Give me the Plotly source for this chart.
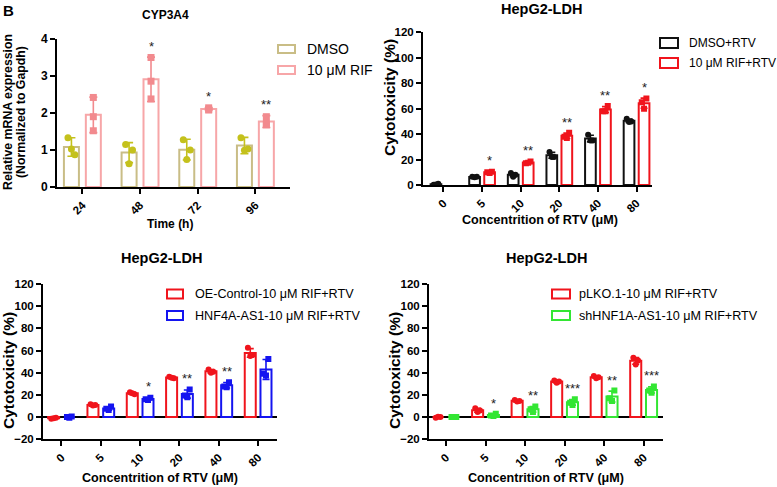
import plotly.graph_objects as go

W, H = 777, 487
FONT = "Liberation Sans, Arial, sans-serif"

# ---------------- Data ----------------
# Panel 1: CYP3A4 mRNA
time_labels = ["24", "48", "72", "96"]
dmso_points = [[1.33, 0.87, 1.03], [1.15, 1.00, 0.63], [1.28, 1.00, 0.74], [1.33, 1.03, 0.99]]
dmso_mean = [1.08, 0.93, 1.01, 1.12]
dmso_sd = [0.25, 0.27, 0.28, 0.22]
rif_points = [[2.42, 1.90, 1.52], [3.50, 2.86, 2.38], [2.14, 2.08, 2.10], [1.90, 1.72, 1.68]]
rif_mean = [1.95, 2.91, 2.11, 1.77]
rif_sd = [0.48, 0.60, 0.03, 0.16]
cyp_sig = ["", "*", "*", "**"]

# Shared concentration labels
conc_labels = ["0", "5", "10", "20", "40", "80"]

# Panel 2: DMSO+RTV vs RIF+RTV
p2_a_points = [[0.2, 1.0, 0.3], [6.5, 6.5, 6.0], [9.5, 8.0, 6.5], [26.0, 22.0, 22.0], [39.5, 35.0, 35.0], [52.0, 50.0, 49.5]]
p2_a_mean = [0.5, 6.3, 8.0, 23.3, 36.5, 50.5]
p2_a_sd = [0.4, 0.3, 1.5, 2.3, 2.6, 1.3]
p2_b_points = [[], [10.5, 10.0, 9.5], [18.5, 17.0, 17.5], [41.0, 38.0, 37.0], [62.0, 58.0, 58.0], [68.0, 65.0, 60.0]]
p2_b_mean = [None, 10.0, 17.7, 38.7, 59.3, 64.3]
p2_b_sd = [0, 0.5, 0.8, 2.1, 2.3, 4.0]
p2_sig = ["", "*", "**", "**", "**", "*"]

# Panel 3: OE-Control vs HNF4A-AS1
p3_a_points = [[-1.5, -0.5, -1.0], [11.5, 11.0, 10.5], [22.5, 20.5, 21.5], [36.5, 35.0, 35.5], [43.0, 41.0, 40.0], [62.5, 56.0, 55.0]]
p3_a_mean = [-1.0, 11.0, 21.5, 35.7, 41.3, 57.8]
p3_a_sd = [0.5, 0.5, 1.0, 0.8, 1.5, 3.9]
p3_b_points = [[0.5, 0.0, -0.5], [9.5, 7.5, 6.5], [17.5, 16.0, 15.5], [25.0, 19.5, 18.0], [31.5, 27.5, 27.0], [52.5, 39.0, 37.5]]
p3_b_mean = [0.0, 7.8, 16.3, 20.8, 28.7, 43.0]
p3_b_sd = [0.5, 1.5, 1.0, 3.7, 2.5, 9.0]
p3_sig = ["", "", "*", "**", "**", ""]

# Panel 4: pLKO.1 vs shHNF1A-AS1
p4_a_points = [[-0.5, 0.0, 0.3], [8.0, 6.0, 4.5], [15.5, 14.5, 14.0], [33.0, 32.0, 31.0], [37.0, 36.0, 35.0], [53.5, 51.0, 47.5]]
p4_a_mean = [0.0, 6.2, 14.7, 32.0, 36.0, 50.7]
p4_a_sd = [0.4, 1.8, 0.8, 1.0, 1.0, 3.0]
p4_b_points = [[0.0, 0.0, 0.0], [3.0, 1.5, 1.0], [9.5, 7.0, 4.5], [16.0, 13.0, 11.0], [24.0, 17.0, 14.5], [27.5, 24.0, 22.0]]
p4_b_mean = [0.0, 1.8, 7.0, 13.3, 18.5, 24.5]
p4_b_sd = [0.2, 1.0, 2.5, 2.5, 4.9, 2.8]
p4_sig = ["", "*", "**", "***", "**", "***"]

# ---------------- Helpers ----------------
def fx(px):
    return px / W

def fy(py):
    return 1 - py / H

fig = go.Figure()
annotations = []
shapes = []


def add_group(xr, yr, labels, means, sds, pts, offset, width, line_color, pt_color,
              symbol, name, jitter, cap, msize):
    xs = list(range(len(labels)))
    fig.add_trace(go.Bar(
        x=xs, y=means, offset=offset, width=width, name=name, showlegend=False,
        marker=dict(color="white", line=dict(color=line_color, width=2)),
        error_y=dict(type="data", array=sds, visible=True, color=pt_color,
                     thickness=1.6, width=cap),
        xaxis=xr, yaxis=yr, hoverinfo="skip"))
    px_, py_ = [], []
    for i, p in enumerate(pts):
        for j, v in enumerate(p):
            px_.append(i + offset + width / 2 + jitter[j % len(jitter)])
            py_.append(v)
    fig.add_trace(go.Scatter(
        x=px_, y=py_, mode="markers", showlegend=False, name=name,
        marker=dict(symbol=symbol, size=msize, color=pt_color, line=dict(width=0)),
        xaxis=xr, yaxis=yr, hoverinfo="skip"))


def add_sig(xr, yr, sig, means, sds, offset, width, shift):
    for i, s in enumerate(sig):
        if s and means[i] is not None:
            annotations.append(dict(
                x=i + offset + width / 2, y=means[i] + sds[i], xref=xr, yref=yr,
                text=s, showarrow=False, yanchor="middle", yshift=shift,
                font=dict(family=FONT, size=13, color="#222")))


def add_legend(x0, entries, size, rw=17, rh=9, gap=10):
    for (yc, color, text) in entries:
        shapes.append(dict(type="rect", xref="paper", yref="paper",
                           x0=fx(x0), x1=fx(x0 + rw), y0=fy(yc + rh / 2), y1=fy(yc - rh / 2),
                           line=dict(color=color, width=2), fillcolor="white"))
        annotations.append(dict(x=fx(x0 + rw + gap), y=fy(yc), xref="paper", yref="paper",
                                text=text, showarrow=False, xanchor="left", yanchor="middle",
                                font=dict(family=FONT, size=size, color="black")))


def label(x, y, text, size, angle=0, bold=True):
    annotations.append(dict(x=fx(x), y=fy(y), xref="paper", yref="paper", text=text,
                            showarrow=False, xanchor="center", yanchor="middle",
                            textangle=angle,
                            font=dict(family=FONT, size=size, color="black",
                                      weight="bold" if bold else "normal")))


# ---------------- Panel 1 ----------------
OLIVE_LINE, OLIVE_PT = "#c9bd86", "#c4c11c"
PINK_LINE, PINK_PT = "#f7a6a8", "#f28a8e"
w1 = 0.26
add_group("x", "y", time_labels, dmso_mean, dmso_sd, dmso_points, -0.32, w1,
          OLIVE_LINE, OLIVE_PT, "circle", "DMSO", [-0.06, 0.06, 0.0], 4, 7)
add_group("x", "y", time_labels, rif_mean, rif_sd, rif_points, 0.06, w1,
          PINK_LINE, PINK_PT, "square", "10 μM RIF", [0.0, 0.0, 0.0], 4, 7)
add_sig("x", "y", cyp_sig, rif_mean, rif_sd, 0.06, w1, 11)

# ---------------- Panel 2 ----------------
BLACK, RED, BLUE, GREEN = "#111111", "#f0141c", "#1414f0", "#33e633"
w2 = 0.277
add_group("x2", "y2", conc_labels, p2_a_mean, p2_a_sd, p2_a_points, -0.333, w2,
          BLACK, BLACK, "circle", "DMSO+RTV", [-0.06, 0.06, 0.0], 3.5, 6)
add_group("x2", "y2", conc_labels, p2_b_mean, p2_b_sd, p2_b_points, 0.056, w2,
          RED, RED, "square", "10 μM RIF+RTV", [0.06, -0.06, 0.0], 3.5, 6)
add_sig("x2", "y2", p2_sig, p2_b_mean, p2_b_sd, 0.056, w2, 11)

# ---------------- Panel 3 ----------------
w3 = 0.28
add_group("x3", "y3", conc_labels, p3_a_mean, p3_a_sd, p3_a_points, -0.34, w3,
          RED, RED, "circle", "OE-Control-10 μM RIF+RTV", [-0.06, 0.06, 0.0], 3.5, 6)
add_group("x3", "y3", conc_labels, p3_b_mean, p3_b_sd, p3_b_points, 0.06, w3,
          BLUE, BLUE, "square", "HNF4A-AS1-10 μM RIF+RTV", [0.06, -0.06, 0.0], 3.5, 6)
add_sig("x3", "y3", p3_sig, p3_b_mean, p3_b_sd, 0.06, w3, 11)

# ---------------- Panel 4 ----------------
add_group("x4", "y4", conc_labels, p4_a_mean, p4_a_sd, p4_a_points, -0.34, w3,
          RED, RED, "circle", "pLKO.1-10 μM RIF+RTV", [-0.06, 0.06, 0.0], 3.5, 6)
add_group("x4", "y4", conc_labels, p4_b_mean, p4_b_sd, p4_b_points, 0.06, w3,
          GREEN, GREEN, "square", "shHNF1A-AS1-10 μM RIF+RTV", [0.06, -0.06, 0.0], 3.5, 6)
add_sig("x4", "y4", p4_sig, p4_b_mean, p4_b_sd, 0.06, w3, 11)

# ---------------- Axes ----------------
def xaxis(dom, rng, labels, anchor):
    return dict(domain=[fx(dom[0]), fx(dom[1])], range=rng, anchor=anchor,
                tickmode="array", tickvals=list(range(len(labels))), ticktext=labels,
                tickangle=-45, showline=True, linecolor="black", linewidth=2,
                ticks="outside", ticklen=5, tickwidth=2, tickcolor="black",
                showgrid=False, zeroline=False, automargin=False,
                tickfont=dict(family=FONT, size=11.5, color="black", weight="bold"))


def yaxis(dom, rng, tickvals, anchor, zero=False, fsize=11.5):
    return dict(domain=[fy(dom[1]), fy(dom[0])], range=rng, anchor=anchor,
                tickmode="array", tickvals=tickvals,
                showline=True, linecolor="black", linewidth=2,
                ticks="outside", ticklen=5, tickwidth=2, tickcolor="black",
                showgrid=False, zeroline=zero, zerolinecolor="black", zerolinewidth=2,
                automargin=False,
                tickfont=dict(family=FONT, size=fsize, color="black", weight="bold"))


layout = dict(
    width=W, height=H, margin=dict(l=0, r=0, t=0, b=0),
    paper_bgcolor="white", plot_bgcolor="white", barmode="overlay",
    showlegend=False,
    xaxis=xaxis((57, 290), [-0.44, 3.6], time_labels, "y"),
    yaxis=yaxis((39, 187), [0, 4], [0, 1, 2, 3, 4], "x", fsize=12),
    xaxis2=xaxis((423, 652), [-0.53, 5.4], conc_labels, "y2"),
    yaxis2=yaxis((32.3, 185), [0, 120], [0, 20, 40, 60, 80, 100, 120], "x2"),
    xaxis3=xaxis((43, 277), [-0.47, 5.48], conc_labels, "y3"),
    yaxis3=yaxis((284, 439.3), [-20, 120], [-20, 0, 20, 40, 60, 80, 100, 120], "x3", zero=True),
    xaxis4=xaxis((429, 663), [-0.43, 5.49], conc_labels, "y4"),
    yaxis4=yaxis((284, 439.3), [-20, 120], [-20, 0, 20, 40, 60, 80, 100, 120], "x4", zero=True),
)

# ---------------- Titles & labels ----------------
label(165, 15, "CYP3A4", 12)
label(541, 9, "HepG2-LDH", 14.5)
label(161, 258, "HepG2-LDH", 14.5)
label(546, 258, "HepG2-LDH", 14.5)

label(8, 112, "Relative mRNA expression", 12.3, angle=-90)
label(21, 112, "(Normalized to Gapdh)", 12.3, angle=-90)
label(390, 98, "Cytotoxicity (%)", 15.5, angle=-90)
label(8, 371, "Cytotoxicity (%)", 15.5, angle=-90)
label(394, 371, "Cytotoxicity (%)", 15.5, angle=-90)

label(170, 224, "Time (h)", 12)
label(540, 220, "Concentrition of RTV (μM)", 12.6)
label(160, 478, "Concentrition of RTV (μM)", 12.6)
label(546, 478, "Concentrition of RTV (μM)", 12.6)

annotations.append(dict(x=fx(1), y=fy(0), xref="paper", yref="paper", text="B",
                        showarrow=False, xanchor="left", yanchor="top",
                        font=dict(family=FONT, size=15, color="black", weight="bold")))

# ---------------- Legends ----------------
add_legend(278, [(49, OLIVE_LINE, "DMSO"), (70, PINK_LINE, "10 μM RIF")], 14, rw=17, rh=8, gap=10)
add_legend(660, [(43, BLACK, "DMSO+RTV"), (63, RED, "10 μM RIF+RTV")], 12, rw=18, rh=10, gap=9)
add_legend(167, [(294, RED, "OE-Control-10 μM RIF+RTV"), (315.5, BLUE, "HNF4A-AS1-10 μM RIF+RTV")], 12.6, rw=16, rh=9, gap=10)
add_legend(552, [(294, RED, "pLKO.1-10 μM RIF+RTV"), (315.5, GREEN, "shHNF1A-AS1-10 μM RIF+RTV")], 12.6, rw=18, rh=9, gap=7)

layout["annotations"] = annotations
layout["shapes"] = shapes
fig.update_layout(**layout)
fig.write_html(
    "out.html",
    config={"displayModeBar": False},
    post_script="document.body.style.margin='0';document.body.style.overflow='hidden';",
)
